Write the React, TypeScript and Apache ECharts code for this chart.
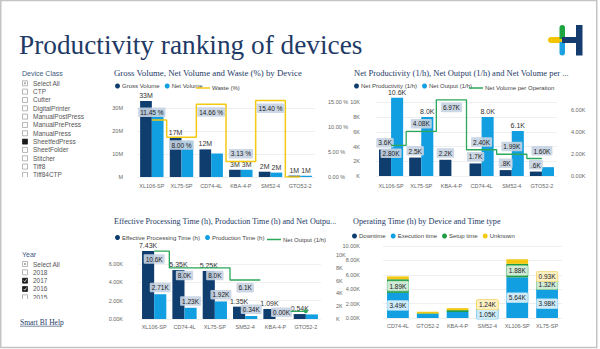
import React, { useEffect, useRef } from 'react';
import * as echarts from 'echarts';

// ---------- data ----------
const volumeDevices = ['XL106-SP', 'XL75-SP', 'CD74-4L', 'KBA-4-P', 'SM52-4', 'GTO52-2'];
const grossVolume = [33000000, 17000000, 12000000, 3200000, 2300000, 600000];
const netVolume = [29200000, 15600000, 10200000, 3100000, 1900000, 550000];
const wastePct = [11.45, 8.0, 14.66, 3.13, 15.4, 0];

const productivityDevices = ['XL106-SP', 'XL75-SP', 'KBA-4-P', 'CD74-4L', 'SM52-4', 'GTO52-2'];
const netProductivity = [3600, 2500, 2200, 1700, 800, 600];
const netOutput = [10600, 8000, null, 8000, 6100, 1200];
const netVolumePerOperation = [2800, 4080, 6970, 2400, 1990, 1600];

const processingDevices = ['XL106-SP', 'CD74-4L', 'XL75-SP', 'SM52-4', 'KBA-4-P', 'GTO52-2'];
const effectiveProcessingTime = [7430, 5350, 5250, 1350, 1090, 540];
const productionTime = [2710, 1230, 1920, 340, 0, 500];
const netOutputByProcessing = [10600, 8000, 8000, 6100, null, 1200];

const operatingDevices = ['CD74-4L', 'GTO52-2', 'KBA-4-P', 'SM52-4', 'XL106-SP', 'XL75-SP'];
const downtime = [0, 0, 0, 0, 0, 0];
const executionTime = [3490, 550, 830, 1050, 5640, 3980];
const setupTime = [1890, 90, 260, 180, 1880, 1320];
const unknownTime = [400, 230, 280, 1240, 640, 930];

const deviceClasses = ['Select All', 'CTP', 'Cutter', 'DigitalPrinter', 'ManualPostPress', 'ManualPrePress', 'ManualPress', 'SheetfedPress', 'SheetFolder', 'Stitcher', 'Tiff8', 'Tiff84CTP'];
const selectedDeviceClasses = ['SheetfedPress'];
const years = ['Select All', '2018', '2017', '2016', '2015'];
const selectedYears = ['2017', '2016'];

// ---------- style ----------
const SANS = "'Liberation Sans', Arial, sans-serif";
const SERIF = "'Liberation Serif', 'Times New Roman', serif";
const NAVY = '#0F3D6E';
const BLUE = '#129FE2';
const GREEN_LINE = '#2CA85A';
const GREEN = '#1E9B45';
const YELLOW = '#F3C911';
const TITLE = '#1E3A66';
const GRID = '#ebebeb';

const fmtM = (v: number) => (v === 0 ? 'M' : Math.round(v / 1e6) + 'M');
const fmtK1 = (v: number) => (v / 1000).toFixed(1).replace(/^0\./, '.') + 'K';
const fmtK2 = (v: number) => (v / 1000).toFixed(2) + 'K';
const fmtKint = (v: number) => (v === 0 ? 'K' : Math.round(v / 1000) + 'K');

const boxLabel = (extra: any = {}) => ({
  show: true,
  fontFamily: SANS,
  fontSize: 6.5,
  color: '#222',
  backgroundColor: 'rgba(198,211,226,0.9)',
  padding: [1.5, 2, 1, 2],
  borderRadius: 1,
  ...extra,
});
const plainLabel = (extra: any = {}) => ({
  show: true,
  position: 'top',
  distance: 2,
  fontFamily: SANS,
  fontSize: 7,
  color: '#333',
  ...extra,
});

const axisLabelStyle = { fontFamily: SANS, fontSize: 5.5, color: '#666' };
const gridColors = (n: number) => {
  const arr: string[] = [];
  for (let i = 0; i < n; i++) arr.push(GRID);
  arr.push('rgba(0,0,0,0)');
  return arr;
};

const catAxis = (gridIndex: number, data: string[], margin: number) => ({
  type: 'category',
  gridIndex,
  data,
  axisLine: { show: false },
  axisTick: { show: false },
  axisLabel: { ...axisLabelStyle, margin, interval: 0 },
});

const valAxis = (gridIndex: number, max: number, interval: number, fmt: (v: number) => string, margin: number, split: boolean, splitCount: number, position = 'left') => ({
  type: 'value',
  gridIndex,
  position,
  min: 0,
  max,
  interval,
  axisLine: { show: false },
  axisTick: { show: false },
  axisLabel: { ...axisLabelStyle, margin, formatter: fmt, showMaxLabel: false },
  splitLine: split ? { show: true, lineStyle: { color: gridColors(splitCount), width: 0.8 } } : { show: false },
});

function slicer(header: string, items: string[], checked: string[], checkmark: boolean, x: number, yHeader: number, yFirst: number, step: number, clipY: number) {
  const els: any[] = [];
  els.push({ type: 'text', x, y: yHeader, style: { text: header, fontFamily: SANS, fontSize: 7, fill: '#3D5A80', verticalAlign: 'middle' } });
  items.forEach((it, i) => {
    const y = yFirst + i * step;
    const on = checked.includes(it);
    els.push({ type: 'rect', shape: { x: x + 0.5, y: y - 2.5, width: 5, height: 5 }, style: { fill: on ? '#1b1b1b' : '#fff', stroke: on ? '#1b1b1b' : '#9a9a9a', lineWidth: 0.7 } });
    if (it === 'Select All') els.push({ type: 'rect', shape: { x: x + 2, y: y - 1, width: 2, height: 2 }, style: { fill: '#b0b0b0' } });
    if (on && checkmark) els.push({ type: 'polyline', shape: { points: [[x + 1.6, y], [x + 2.8, y + 1.2], [x + 4.6, y - 1.4]] }, style: { stroke: '#fff', lineWidth: 0.8, fill: null } });
    els.push({ type: 'text', x: x + 11, y, style: { text: it, fontFamily: SANS, fontSize: 6.5, fill: '#555', verticalAlign: 'middle' } });
  });
  els.push({ type: 'rect', shape: { x: x - 2, y: clipY, width: 80, height: 9 }, style: { fill: '#fff' } });
  return els;
}

function buildOption(): any {
  const legendBase = {
    orient: 'horizontal',
    padding: 0,
    itemWidth: 5,
    itemHeight: 5,
    itemGap: 5,
    icon: 'circle',
    selectedMode: false,
    textStyle: { fontFamily: SANS, fontSize: 6, color: '#444', padding: [0, 0, 0, -3] },
  };
  const lineLegend = { ...legendBase, icon: 'rect', itemWidth: 14, itemHeight: 1.5 };
  const chartTitle = (fontSize: number) => ({ fontFamily: SERIF, fontSize, fontWeight: 'normal', color: TITLE });

  const graphics: any[] = [
    { type: 'rect', shape: { x: 0.75, y: 0.5, width: 596, height: 347 }, style: { fill: 'none', stroke: '#c4c4c4', lineWidth: 1.5 } },
    // logo
    { type: 'rect', shape: { x: 548, y: 37, width: 14, height: 6, r: 3 }, style: { fill: '#F5C400' } },
    { type: 'rect', shape: { x: 559.5, y: 25, width: 5.5, height: 14, r: [2.7, 2.7, 0, 0] }, style: { fill: '#1DA53F' } },
    { type: 'rect', shape: { x: 559.5, y: 42, width: 5.5, height: 13.5, r: [0, 0, 2.7, 2.7] }, style: { fill: '#1BA1E2' } },
    { type: 'rect', shape: { x: 562, y: 37, width: 15, height: 6 }, style: { fill: '#143C6E' } },
    { type: 'rect', shape: { x: 576, y: 25, width: 6.5, height: 30.5 }, style: { fill: '#143C6E' } },
    ...slicer('Device Class', deviceClasses, selectedDeviceClasses, false, 22, 73.3, 83.3, 8.33, 177),
    ...slicer('Year', years, selectedYears, true, 22, 254, 264, 8.33, 299),
    { type: 'text', x: 20, y: 322, style: { text: 'Smart BI Help', fontFamily: SERIF, fontSize: 7.5, fill: TITLE, verticalAlign: 'middle' } },
    { type: 'line', shape: { x1: 20, y1: 326.2, x2: 61, y2: 326.2 }, style: { stroke: TITLE, lineWidth: 0.6 } },
  ];

  const tinySymbol = { symbol: 'circle', symbolSize: 0.01, showSymbol: true };
  const maxVolPerOp = Math.max(...netVolumePerOperation);

  return {
    animation: false,
    backgroundColor: '#fff',
    title: [
      { text: 'Productivity ranking of devices', left: 19, top: 31, padding: 0, textStyle: { fontFamily: SERIF, fontSize: 27.3, fontWeight: 'normal', color: TITLE } },
      { text: 'Gross Volume, Net Volume and Waste (%) by Device', left: 114, top: 68, padding: 0, textStyle: chartTitle(8.8) },
      { text: 'Net Productivity (1/h), Net Output (1/h) and Net Volume per ...', left: 354, top: 68, padding: 0, textStyle: chartTitle(8.5) },
      { text: 'Effective Processing Time (h), Production Time (h) and Net Outpu...', left: 114, top: 217.5, padding: 0, textStyle: chartTitle(8.1) },
      { text: 'Operating Time (h) by Device and Time type', left: 353, top: 217.5, padding: 0, textStyle: chartTitle(8.2) },
    ],
    legend: [
      { ...legendBase, left: 115, top: 83, data: ['Gross Volume', 'Net Volume'] },
      { ...lineLegend, left: 196, top: 85, data: ['Waste (%)'] },
      { ...legendBase, left: 354, top: 83, data: ['Net Productivity (1/h)', 'Net Output (1/h)'] },
      { ...lineLegend, left: 469, top: 85, data: ['Net Volume per Operation'] },
      { ...legendBase, left: 115, top: 234.5, data: ['Effective Processing Time (h)', 'Production Time (h)'] },
      { ...lineLegend, left: 267, top: 236.5, data: ['Net Output (1/h) '] },
      { ...legendBase, left: 352, top: 233, data: ['Downtime', 'Execution time', 'Setup time', 'Unknown'] },
    ],
    grid: [
      { left: 137, top: 96, width: 178, height: 81 },
      { left: 376, top: 96, width: 181, height: 80 },
      { left: 139, top: 248, width: 182, height: 71 },
      { left: 383, top: 246, width: 179, height: 72 },
    ],
    xAxis: [
      catAxis(0, volumeDevices, 6),
      catAxis(1, productivityDevices, 7),
      catAxis(2, processingDevices, 5),
      catAxis(3, operatingDevices, 5),
    ],
    yAxis: [
      valAxis(0, 35200000, 10000000, fmtM, 14, true, 4),
      valAxis(0, 16.3, 5, (v: number) => v.toFixed(2) + ' %', 13, false, 0, 'right'),
      valAxis(1, 10850, 2000, fmtKint, 16, true, 6),
      valAxis(1, 7320, 2000, fmtK2, 14, false, 0, 'right'),
      valAxis(2, 7760, 2000, fmtK2, 16, true, 4),
      valAxis(2, 11100, 2000, fmtKint, 15, false, 0, 'right'),
      { ...valAxis(3, 10000, 2000, fmtK2, 23, true, 6), axisLabel: { ...axisLabelStyle, margin: 23, formatter: fmtK2 }, splitLine: { show: true, lineStyle: { color: GRID, width: 0.8 } } },
    ],
    graphic: { elements: graphics },
    series: [
      // chart 1
      {
        name: 'Gross Volume', type: 'bar', xAxisIndex: 0, yAxisIndex: 0, color: NAVY, barGap: '0%', barCategoryGap: '21%',
        data: grossVolume,
        label: plainLabel({ formatter: (p: any) => fmtM(p.value) }),
      },
      {
        name: 'Net Volume', type: 'bar', xAxisIndex: 0, yAxisIndex: 0, color: BLUE, barGap: '0%', barCategoryGap: '21%',
        data: netVolume.map((v) => ({ value: v, label: { show: v < 5000000 } })),
        label: plainLabel({ formatter: (p: any) => fmtM(p.value) }),
      },
      {
        name: 'Waste (%)', type: 'line', xAxisIndex: 0, yAxisIndex: 1, step: 'middle', color: YELLOW, z: 5, ...tinySymbol,
        lineStyle: { width: 1.5, color: YELLOW },
        data: wastePct.map((v, i) => ({ value: v, label: { show: v > 0, position: v < 5 || i === 0 ? 'top' : 'bottom' } })),
        label: boxLabel({ distance: 3, formatter: (p: any) => p.value.toFixed(2) + ' %' }),
      },
      // chart 2
      {
        name: 'Net Productivity (1/h)', type: 'bar', xAxisIndex: 1, yAxisIndex: 2, color: NAVY, barGap: '0%', barCategoryGap: '20%',
        data: netProductivity,
        label: boxLabel({ position: 'top', distance: 2, formatter: (p: any) => fmtK1(p.value) }),
      },
      {
        name: 'Net Output (1/h)', type: 'bar', xAxisIndex: 1, yAxisIndex: 2, color: BLUE, barGap: '0%', barCategoryGap: '20%',
        data: netOutput.map((v) => (v === null ? null : { value: v, label: { show: v >= 2000 } })),
        label: plainLabel({ formatter: (p: any) => fmtK1(p.value) }),
      },
      {
        name: 'Net Volume per Operation', type: 'line', xAxisIndex: 1, yAxisIndex: 3, step: 'middle', color: GREEN_LINE, z: 5, ...tinySymbol,
        lineStyle: { width: 1.3, color: GREEN_LINE },
        data: netVolumePerOperation.map((v, i) => ({ value: v, label: { position: i === 0 || v === maxVolPerOp ? 'bottom' : 'top' } })),
        label: boxLabel({ position: 'top', distance: 3, formatter: (p: any) => fmtK2(p.value) }),
      },
      // chart 3
      {
        name: 'Effective Processing Time (h)', type: 'bar', xAxisIndex: 2, yAxisIndex: 4, color: NAVY, barGap: '0%', barCategoryGap: '20%',
        data: effectiveProcessingTime,
        label: plainLabel({ formatter: (p: any) => fmtK2(p.value) }),
      },
      {
        name: 'Production Time (h)', type: 'bar', xAxisIndex: 2, yAxisIndex: 4, color: BLUE, barGap: '0%', barCategoryGap: '20%',
        data: productionTime.map((v, i) => ({ value: v, label: { show: v < 0.9 * effectiveProcessingTime[i] } })),
        label: boxLabel({ position: 'top', distance: 2, formatter: (p: any) => fmtK2(p.value) }),
      },
      {
        name: 'Net Output (1/h) ', type: 'line', xAxisIndex: 2, yAxisIndex: 5, step: 'middle', color: GREEN_LINE, z: 5, ...tinySymbol,
        lineStyle: { width: 1.3, color: GREEN_LINE },
        data: netOutputByProcessing.map((v) =>
          v === null ? null : v >= 2000 ? { value: v } : { value: v, symbolSize: 4, label: { show: false } }
        ),
        label: boxLabel({ position: 'bottom', distance: 3, formatter: (p: any) => fmtK1(p.value) }),
      },
      // chart 4
      {
        name: 'Downtime', type: 'bar', stack: 'op', xAxisIndex: 3, yAxisIndex: 6, color: NAVY, barCategoryGap: '27%',
        data: downtime,
      },
      {
        name: 'Execution time', type: 'bar', stack: 'op', xAxisIndex: 3, yAxisIndex: 6, color: BLUE, barCategoryGap: '27%',
        data: executionTime.map((v) => ({ value: v, label: { show: v >= 1000 } })),
        label: boxLabel({ position: 'inside', backgroundColor: '#CDEAF9', borderColor: '#86CDF1', borderWidth: 0.6, formatter: (p: any) => fmtK2(p.value) }),
      },
      {
        name: 'Setup time', type: 'bar', stack: 'op', xAxisIndex: 3, yAxisIndex: 6, color: GREEN, barCategoryGap: '27%',
        data: setupTime.map((v) => ({ value: v, label: { show: v >= 1000 } })),
        label: boxLabel({ position: 'inside', backgroundColor: '#CFEBD6', borderColor: '#7CC690', borderWidth: 0.6, formatter: (p: any) => fmtK2(p.value) }),
      },
      {
        name: 'Unknown', type: 'bar', stack: 'op', xAxisIndex: 3, yAxisIndex: 6, color: YELLOW, barCategoryGap: '27%',
        data: unknownTime.map((v) => ({ value: v, label: { show: v >= 900 } })),
        label: boxLabel({ position: 'inside', backgroundColor: '#FCF0C2', borderColor: '#F2D055', borderWidth: 0.6, formatter: (p: any) => fmtK2(p.value) }),
      },
    ],
  };
}

export default function App() {
  const ref = useRef<HTMLDivElement>(null);
  useEffect(() => {
    const chart = echarts.init(ref.current!, null, { renderer: 'svg' });
    chart.setOption(buildOption());
    return () => chart.dispose();
  }, []);
  return (
    <div
      ref={ref}
      style={{ position: 'fixed', left: 0, top: 0, width: 600, height: 349, background: '#fff' }}
    />
  );
}
